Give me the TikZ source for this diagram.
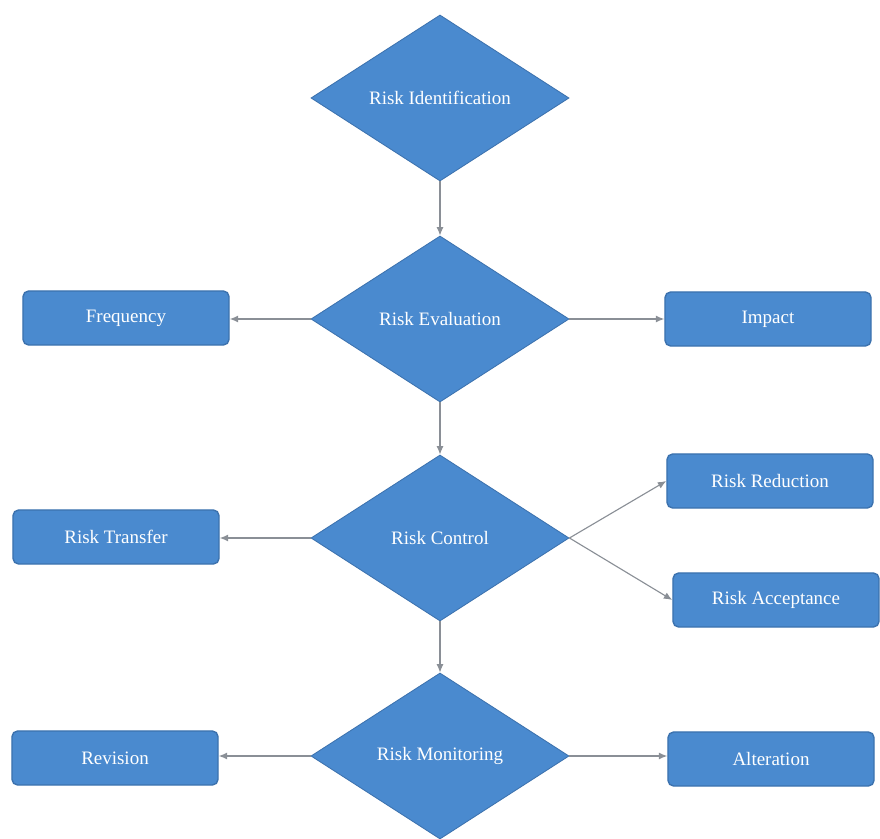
\documentclass[tikz,border=0pt]{standalone}
\usepackage{fontspec}
\setmainfont{Liberation Serif}
\usetikzlibrary{shapes.geometric,arrows.meta}

\definecolor{riskblue}{HTML}{4A8ACF}
\definecolor{riskedge}{HTML}{3C72AE}
\definecolor{riskarrow}{HTML}{8A8F96}

\tikzset{
  stage/.style={diamond,fill=riskblue,draw=riskedge,line width=0.6pt,
    minimum width=6.45cm,minimum height=4.15cm,inner sep=0pt,
    text=white,font=\fontsize{13.5}{15}\selectfont},
  option/.style={rectangle,rounded corners=4pt,fill=riskblue,draw=riskedge,
    line width=1pt,minimum width=5.15cm,minimum height=1.35cm,
    text=white,font=\fontsize{13.5}{15}\selectfont},
  link/.style={draw=riskarrow,line width=0.8pt,-{Latex[length=6pt,width=5pt]}}
}

\begin{document}
\begin{tikzpicture}[x=0.025cm,y=-0.025cm]
\useasboundingbox (0,0) rectangle (880,839);

% main chain
\node[stage] (ident) at (440,98) {Risk Identification};
\node[stage] (eval) at (440,319) {Risk Evaluation};
\node[stage] (control) at (440,538) {Risk Control};
\node[stage] (monitor) at (440,756) {Risk Monitoring};

% outcomes
\node[option] (freq) at (126,318) {Frequency};
\node[option] (impact) at (768,319) {Impact};
\node[option] (transfer) at (116,537) {Risk Transfer};
\node[option] (reduce) at (770,481) {Risk Reduction};
\node[option] (accept) at (776,600) {Risk Acceptance};
\node[option] (revise) at (115,758) {Revision};
\node[option] (alter) at (771,759) {Alteration};

\draw[link] (ident.south) -- (eval.north);
\draw[link] (eval.south) -- (control.north);
\draw[link] (control.south) -- (monitor.north);

\draw[link] (eval.west) -- (eval.west -| freq.east);
\draw[link] (eval.east) -- (eval.east -| impact.west);
\draw[link] (control.west) -- (control.west -| transfer.east);
\draw[link] (control.east) -- (reduce.west);
\draw[link] (control.east) -- (accept.west);
\draw[link] (monitor.west) -- (monitor.west -| revise.east);
\draw[link] (monitor.east) -- (monitor.east -| alter.west);
\end{tikzpicture}
\end{document}
